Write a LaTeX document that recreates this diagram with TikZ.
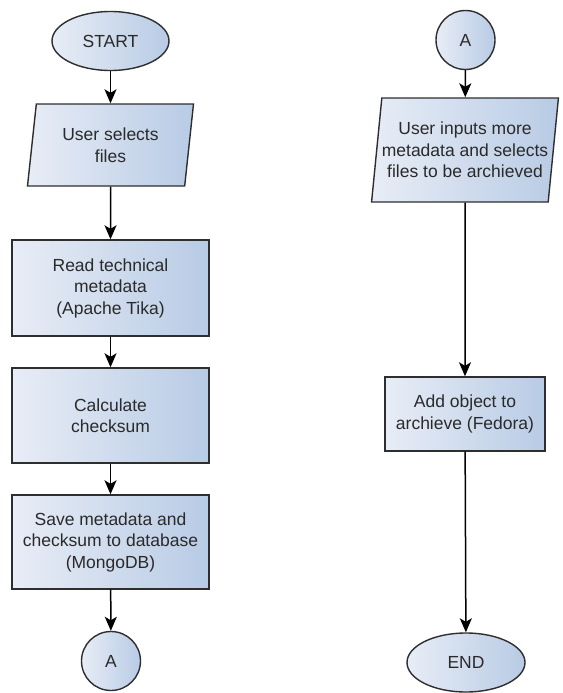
\documentclass[tikz,border=0pt]{standalone}
\usepackage{fontspec}
\setmainfont{Liberation Sans}
\usetikzlibrary{shapes.geometric,arrows.meta}
\definecolor{fillL}{HTML}{E8EDF6}
\definecolor{fillR}{HTML}{B8CBE5}
\definecolor{edge}{HTML}{2E2E2E}
\definecolor{ink}{HTML}{2A2A2A}
\tikzset{
  shaded/.style={draw=edge, line width=1.4pt, left color=fillL, right color=fillR,
    text=ink, font=\fontsize{17.5}{21.5}\selectfont, align=center, inner sep=0pt},
  terminal/.style={shaded, ellipse, minimum width=117pt, minimum height=59pt},
  connector/.style={shaded, circle, minimum size=59pt},
  process/.style={shaded, rectangle, minimum width=197pt},
  iobox/.style={shaded, trapezium, trapezium stretches body=true},
  flow/.style={draw=black, line width=1.5pt, -{Stealth[length=14pt,width=12pt,inset=3.5pt]}}
}
\begin{document}
\begin{tikzpicture}[x=1pt,y=-1pt]
\useasboundingbox (0,0) rectangle (562,693);

% left column
\node[terminal] (start) at (110.5,41) {START};
\node[iobox, trapezium left angle=75.6, trapezium right angle=104.4,
      minimum width=166pt, minimum height=82pt] (select) at (110.5,145) {User selects\\files};
\node[process, minimum height=96pt] (tika) at (110.5,288) {Read technical\\metadata\\(Apache Tika)};
\node[process, minimum height=95pt] (checksum) at (110.5,415.5) {Calculate\\checksum};
\node[process, minimum height=94pt] (save) at (110.5,542) {Save metadata and\\checksum to database\\(MongoDB)};
\node[connector] (aleft) at (111,661) {A};

% right column
\node[connector] (aright) at (465.5,40) {A};
\node[iobox, trapezium left angle=79.6, trapezium right angle=100.4,
      minimum width=164pt, minimum height=104pt] (inputs) at (465,150) {User inputs more\\metadata and selects\\files to be archieved};
\node[process, minimum width=160pt, minimum height=74pt] (fedora) at (465,414) {Add object to\\archieve (Fedora)};
\node[terminal, minimum width=118pt] (finish) at (466,662.5) {END};

% flow
\draw[flow] (start) -- (select);
\draw[flow] (select) -- (tika);
\draw[flow] (tika) -- (checksum);
\draw[flow] (checksum) -- (save);
\draw[flow] (save) -- (aleft);
\draw[flow] (aright) -- (inputs);
\draw[flow] (inputs) -- (fedora);
\draw[flow] (fedora) -- (finish);
\end{tikzpicture}
\end{document}
